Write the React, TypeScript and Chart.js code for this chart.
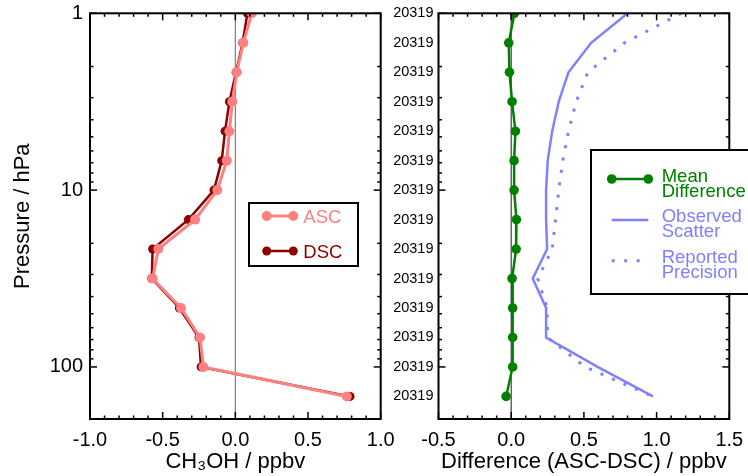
import { useEffect, useRef } from 'react';
import { Chart, registerables } from 'chart.js';

Chart.register(...registerables);

const FONT = '"Liberation Sans", Arial, Helvetica, sans-serif';

// ---- data ----
const pressureLevels = [1, 1.468, 2.154, 3.162, 4.642, 6.813, 10, 14.68, 21.54, 31.62, 46.42, 68.13, 100, 146.8];
const ascValues = [0.113, 0.055, 0.01, -0.021, -0.041, -0.059, -0.124, -0.277, -0.53, -0.569, -0.374, -0.243, -0.22, 0.767];
const dscValues = [0.083, 0.05, 0.005, -0.041, -0.071, -0.094, -0.147, -0.323, -0.569, -0.575, -0.385, -0.25, -0.236, 0.789];
const meanDifference = [0.022, -0.017, -0.012, 0.006, 0.029, 0.02, 0.02, 0.036, 0.034, 0.006, 0.01, 0.01, 0.01, -0.035];
const observedScatter = [0.8, 0.55, 0.394, 0.327, 0.282, 0.251, 0.24, 0.24, 0.247, 0.148, 0.24, 0.24, 0.594, 0.975];
const reportedPrecision = [1.17, 0.78, 0.527, 0.447, 0.394, 0.355, 0.327, 0.305, 0.282, 0.183, 0.247, 0.25, 0.509, 0.975];

const leftXTickValues = [-1, -0.5, 0, 0.5, 1];
const leftXTickLabels = ['-1.0', '-0.5', '0.0', '0.5', '1.0'];
const rightXTickValues = [-0.5, 0, 0.5, 1, 1.5];
const rightXTickLabels = ['-0.5', '0.0', '0.5', '1.0', '1.5'];
const leftYTickValues = [1, 10, 100];
const leftYTickLabels = ['1', '10', '100'];
const rightYTickLabels = ['20319', '20319', '20319', '20319', '20319', '20319', '20319', '20319', '20319', '20319', '20319', '20319', '20319', '20319'];

const ASC_COLOR = 'rgb(255,128,128)';
const DSC_COLOR = 'rgb(140,0,0)';
const GREEN = 'rgb(0,128,0)';
const BLUE = 'rgb(128,128,255)';

const toPoints = (vals: number[]) => vals.map((v, i) => ({ x: v, y: pressureLevels[i] }));

// ---- plugins ----
const frameTicksPlugin = {
  id: 'frameTicks',
  beforeDatasetsDraw(chart: any, _a: any, opts: any) {
    const { ctx, chartArea: a, scales } = chart;
    const px = scales.x.getPixelForValue(0);
    ctx.save();
    ctx.strokeStyle = opts.zeroColor;
    ctx.lineWidth = 1.2;
    ctx.beginPath();
    ctx.moveTo(px, a.top);
    ctx.lineTo(px, a.bottom);
    ctx.stroke();
    ctx.restore();
  },
  afterDatasetsDraw(chart: any) {
    const { ctx, chartArea: a, scales } = chart;
    const x = scales.x;
    const y = scales.y;
    ctx.save();
    ctx.strokeStyle = '#000';
    ctx.lineWidth = 1.5;
    const seg = (x0: number, y0: number, x1: number, y1: number) => {
      ctx.beginPath();
      ctx.moveTo(x0, y0);
      ctx.lineTo(x1, y1);
      ctx.stroke();
    };
    const k0 = Math.round(x.min * 10);
    const k1 = Math.round(x.max * 10);
    for (let k = k0; k <= k1; k++) {
      const p = x.getPixelForValue(k / 10);
      const len = k % 5 === 0 ? 7 : 3.5;
      seg(p, a.bottom, p, a.bottom - len);
      seg(p, a.top, p, a.top + len);
    }
    for (let e = 0; e < 3; e++) {
      for (let m = 1; m <= 9; m++) {
        const v = m * Math.pow(10, e);
        if (v < y.min || v > y.max) continue;
        const p = y.getPixelForValue(v);
        const len = m === 1 ? 7 : 3.5;
        seg(a.left, p, a.left + len, p);
        seg(a.right, p, a.right - len, p);
      }
    }
    ctx.lineWidth = 2;
    ctx.strokeRect(a.left, a.top, a.right - a.left, a.bottom - a.top);
    ctx.restore();
  },
};

const boxLegendPlugin = {
  id: 'boxLegend',
  afterDraw(chart: any, _a: any, opts: any) {
    const ctx = chart.ctx;
    const { box, items, fontSize, lineGap, sampleX0, sampleX1, textX } = opts;
    ctx.save();
    ctx.fillStyle = '#fff';
    ctx.fillRect(box.x, box.y, box.w, box.h);
    ctx.lineWidth = 2;
    ctx.strokeStyle = '#000';
    ctx.strokeRect(box.x, box.y, box.w, box.h);
    items.forEach((it: any) => {
      const ds = chart.data.datasets[it.index];
      const color = ds.borderColor;
      ctx.strokeStyle = color;
      ctx.lineWidth = ds.borderWidth;
      ctx.setLineDash(ds.borderDash || []);
      ctx.beginPath();
      ctx.moveTo(sampleX0, it.y);
      ctx.lineTo(sampleX1, it.y);
      ctx.stroke();
      ctx.setLineDash([]);
      if (ds.pointRadius > 0) {
        ctx.fillStyle = color;
        [sampleX0, sampleX1].forEach((cx: number) => {
          ctx.beginPath();
          ctx.arc(cx, it.y, ds.pointRadius, 0, Math.PI * 2);
          ctx.fill();
        });
      }
      ctx.fillStyle = color;
      ctx.font = `${fontSize}px ${FONT}`;
      ctx.textAlign = 'left';
      ctx.textBaseline = 'alphabetic';
      const lines: string[] = it.split ? ds.label.split(' ') : [ds.label];
      lines.forEach((t: string, i: number) => ctx.fillText(t, textX, it.baseline + i * lineGap));
    });
    ctx.restore();
  },
};

const noGrid = { display: false, drawTicks: false, tickLength: 0 };

function xScale(min: number, max: number, values: number[], labels: string[], title: string) {
  return {
    type: 'linear',
    position: 'bottom',
    min,
    max,
    grid: noGrid,
    border: { display: false },
    afterBuildTicks: (s: any) => {
      s.ticks = values.map((v) => ({ value: v }));
    },
    afterFit: (s: any) => {
      s.height = 57;
      s.paddingLeft = 0;
      s.paddingRight = 0;
    },
    ticks: {
      autoSkip: false,
      maxRotation: 0,
      padding: 9,
      color: '#000',
      font: { size: 20, family: FONT },
      callback: (_v: any, i: number) => labels[i],
    },
    title: {
      display: true,
      text: title,
      color: '#000',
      font: { size: 22, family: FONT },
      padding: { top: 0, bottom: 1 },
    },
  };
}

function makeLeftConfig(): any {
  return {
    type: 'scatter',
    data: {
      datasets: [
        {
          label: 'ASC',
          data: toPoints(ascValues),
          showLine: true,
          borderColor: ASC_COLOR,
          backgroundColor: ASC_COLOR,
          pointBackgroundColor: ASC_COLOR,
          pointBorderWidth: 0,
          pointRadius: 5,
          borderWidth: 3,
        },
        {
          label: 'DSC',
          data: toPoints(dscValues),
          showLine: true,
          borderColor: DSC_COLOR,
          backgroundColor: DSC_COLOR,
          pointBackgroundColor: DSC_COLOR,
          pointBorderWidth: 0,
          pointRadius: 4.5,
          borderWidth: 2.5,
        },
      ],
    },
    options: {
      responsive: false,
      animation: false,
      devicePixelRatio: 1,
      layout: { padding: { left: 0, top: 13.3, right: 367.3, bottom: 0 } },
      scales: {
        x: xScale(-1, 1, leftXTickValues, leftXTickLabels, 'CH\u2083OH / ppbv'),
        y: {
          type: 'logarithmic',
          position: 'left',
          reverse: true,
          min: 1,
          max: 197,
          grid: noGrid,
          border: { display: false },
          afterBuildTicks: (s: any) => {
            s.ticks = leftYTickValues.map((v) => ({ value: v }));
          },
          afterFit: (s: any) => {
            s.width = 90;
            s.paddingTop = 0;
            s.paddingBottom = 0;
          },
          ticks: {
            autoSkip: false,
            padding: 7,
            color: '#000',
            font: { size: 20, family: FONT },
            callback: (_v: any, i: number) => leftYTickLabels[i],
          },
          title: {
            display: true,
            text: 'Pressure / hPa',
            color: '#000',
            font: { size: 22, family: FONT },
            padding: { top: 10, bottom: 0 },
          },
        },
      },
      plugins: {
        legend: { display: false },
        tooltip: { enabled: false },
        frameTicks: { zeroColor: '#808080' },
        boxLegend: {
          box: { x: 249, y: 203, w: 109, h: 63 },
          fontSize: 18.5,
          lineGap: 14.8,
          sampleX0: 266.7,
          sampleX1: 293.3,
          textX: 303.3,
          items: [
            { index: 0, y: 216, baseline: 222.5 },
            { index: 1, y: 251, baseline: 257.5 },
          ],
        },
      },
    },
    plugins: [frameTicksPlugin, boxLegendPlugin],
  };
}

function makeRightConfig(): any {
  return {
    type: 'scatter',
    data: {
      datasets: [
        {
          label: 'Mean Difference',
          data: toPoints(meanDifference),
          showLine: true,
          borderColor: GREEN,
          backgroundColor: GREEN,
          pointBackgroundColor: GREEN,
          pointBorderWidth: 0,
          pointRadius: 4.8,
          borderWidth: 2.5,
        },
        {
          label: 'Observed Scatter',
          data: toPoints(observedScatter),
          showLine: true,
          borderColor: BLUE,
          backgroundColor: BLUE,
          pointRadius: 0,
          borderWidth: 2.5,
        },
        {
          label: 'Reported Precision',
          data: toPoints(reportedPrecision),
          showLine: true,
          borderColor: BLUE,
          backgroundColor: BLUE,
          pointRadius: 0,
          borderWidth: 3,
          borderDash: [3, 9.5],
        },
      ],
    },
    options: {
      responsive: false,
      animation: false,
      devicePixelRatio: 1,
      layout: { padding: { left: 0, top: 13.3, right: 18.7, bottom: 0 } },
      scales: {
        x: xScale(-0.5, 1.5, rightXTickValues, rightXTickLabels, 'Difference (ASC-DSC) / ppbv'),
        y: {
          type: 'logarithmic',
          position: 'left',
          reverse: true,
          min: 1,
          max: 197,
          grid: noGrid,
          border: { display: false },
          afterBuildTicks: (s: any) => {
            s.ticks = pressureLevels.map((v) => ({ value: v }));
          },
          afterFit: (s: any) => {
            s.width = 438.5;
            s.paddingTop = 0;
            s.paddingBottom = 0;
          },
          ticks: {
            autoSkip: false,
            padding: 5,
            color: '#000',
            font: { size: 14.5, family: FONT },
            callback: (_v: any, i: number) => rightYTickLabels[i],
          },
        },
      },
      plugins: {
        legend: { display: false },
        tooltip: { enabled: false },
        frameTicks: { zeroColor: '#404040' },
        boxLegend: {
          box: { x: 591, y: 150, w: 200, h: 144 },
          fontSize: 18.5,
          lineGap: 14.8,
          sampleX0: 611.7,
          sampleX1: 648.3,
          textX: 661.7,
          items: [
            { index: 0, y: 179, baseline: 181.7, split: true },
            { index: 1, y: 220, baseline: 222.4, split: true },
            { index: 2, y: 260.7, baseline: 263.4, split: true },
          ],
        },
      },
    },
    plugins: [frameTicksPlugin, boxLegendPlugin],
  };
}

export default function App() {
  const leftRef = useRef<HTMLCanvasElement>(null);
  const rightRef = useRef<HTMLCanvasElement>(null);

  useEffect(() => {
    Chart.defaults.font.family = FONT;
    Chart.defaults.color = '#000';
    const c1 = new Chart(leftRef.current as HTMLCanvasElement, makeLeftConfig());
    const c2 = new Chart(rightRef.current as HTMLCanvasElement, makeRightConfig());
    return () => {
      c1.destroy();
      c2.destroy();
    };
  }, []);

  return (
    <div style={{ position: 'fixed', left: 0, top: 0, width: 748, height: 476, background: '#fff' }}>
      <canvas ref={leftRef} width={748} height={476} style={{ position: 'absolute', left: 0, top: 0 }} />
      <canvas ref={rightRef} width={748} height={476} style={{ position: 'absolute', left: 0, top: 0 }} />
    </div>
  );
}
